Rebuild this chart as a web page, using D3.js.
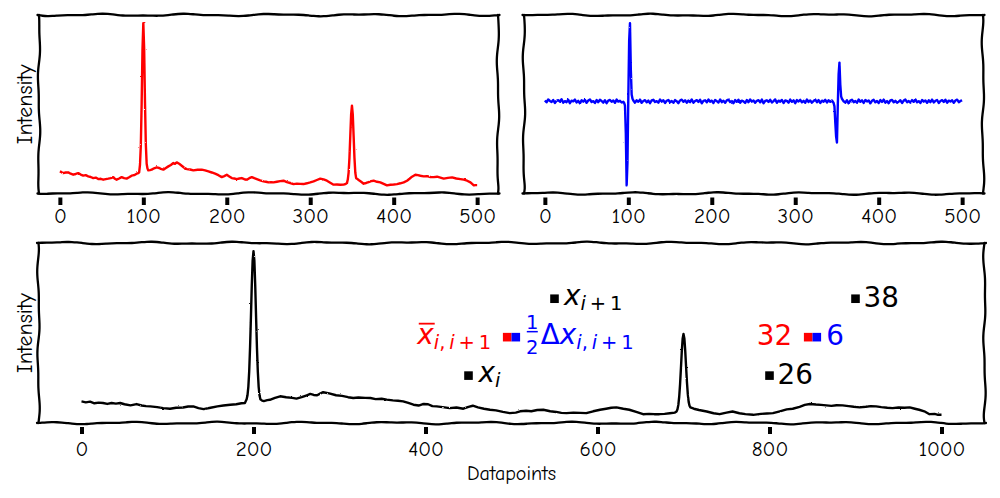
<!DOCTYPE html>
<html><head><meta charset="utf-8">
<script src="https://cdn.jsdelivr.net/npm/d3@7"></script>
<style>html,body{margin:0;padding:0;background:#fff;} svg{display:block;}</style>
</head><body><svg id="c" width="1000" height="498">
<defs>
<filter id="rough" x="-2%" y="-5%" width="104%" height="110%">
<feTurbulence type="fractalNoise" baseFrequency="0.45" numOctaves="1" seed="7" result="n"/>
<feDisplacementMap in="SourceGraphic" in2="n" scale="2.0" xChannelSelector="R" yChannelSelector="G"/>
</filter>
</defs>
</svg>
<script>
// ---------- data ----------
const topTicks = [0, 100, 200, 300, 400, 500];
const bottomTicks = [0, 200, 400, 600, 800, 1000];

// top-left: raw spectrum (red)
const redSeries = [[0,3.33],[2,3.2],[4,3.05],[7,3.15],[10,3.17],[13,2.95],[16,2.78],[19,2.9],[22,3.05],[25,2.8],[28,2.62],[31,2.7],[34,2.5],[37,2.4],[40,2.22],[43,2.3],[46,2.05],[49,2.1],[52,1.95],[55,2.05],[58,2.12],[61,2.2],[64,2.38],[66,2.1],[68,1.95],[71,2.15],[74,2.38],[77,2.2],[80,2.12],[83,2.35],[86,2.62],[89,2.7],[92,2.95],[94,3.05],[95,3.17],[96,4.4],[97,7.6],[98,14.6],[99,23.6],[100,28.05],[101,23.8],[102,14.9],[103,7.9],[104,4.6],[105,3.8],[106,3.5],[108,3.55],[110,3.62],[113,3.85],[116,4.0],[119,3.9],[121,3.75],[124,3.62],[127,3.9],[130,4.17],[133,4.4],[136,4.72],[138,4.6],[140,4.83],[143,4.6],[146,4.28],[149,3.95],[152,3.72],[156,3.65],[160,3.5],[165,3.6],[170,3.62],[174,3.5],[178,3.33],[182,3.15],[186,2.95],[190,2.7],[194,2.38],[197,2.55],[200,2.78],[203,2.5],[206,2.22],[209,2.15],[212,2.05],[215,2.15],[218,2.22],[221,2.05],[224,1.95],[227,2.2],[230,2.38],[233,2.2],[236,2.05],[240,1.85],[244,1.67],[247,1.6],[250,1.5],[253,1.55],[256,1.5],[260,1.6],[264,1.7],[268,1.78],[272,1.55],[276,1.4],[280,1.22],[284,1.3],[288,1.25],[292,1.22],[296,1.35],[300,1.5],[304,1.67],[308,1.9],[312,2.12],[316,2.0],[320,1.78],[324,1.45],[328,1.12],[332,1.15],[336,1.1],[340,1.12],[342,1.2],[344,1.38],[345,1.97],[346,3.14],[347,5.59],[348,9.22],[349,12.78],[350,14.28],[351,12.78],[352,9.22],[353,5.59],[354,3.14],[355,2.2],[356,2.12],[358,1.9],[361,1.6],[364,1.28],[367,1.4],[370,1.55],[373,1.7],[376,1.78],[380,1.6],[384,1.5],[388,1.25],[392,1.0],[396,1.1],[400,1.15],[404,1.22],[408,1.35],[412,1.5],[416,1.78],[419,2.1],[422,2.45],[426,2.78],[429,2.7],[432,2.6],[436,2.5],[440,2.55],[444,2.4],[448,2.38],[452,2.45],[456,2.3],[460,2.12],[465,2.25],[470,2.33],[475,2.15],[480,2.05],[484,1.95],[488,1.78],[492,1.5],[496,1.0],[498,1.05],[500,1.05]];

// top-right: derivative (blue)
const blueSeries = [[0,0.01],[2,-0.012],[4,0.022],[6,0.004],[8,-0.008],[10,0.016],[12,-0.02],[14,0.006],[16,0.014],[18,-0.004],[20,0.024],[22,-0.016],[24,0.002],[26,-0.01],[28,0.018],[30,-0.022],[32,0.008],[34,0.0],[36,0.02],[38,-0.014],[40,0.006],[42,-0.024],[44,0.012],[46,-0.004],[48,0.016],[50,-0.018],[52,0.01],[54,0.022],[56,-0.008],[58,0.002],[60,-0.02],[62,0.014],[64,-0.01],[66,0.018],[68,0.004],[70,-0.016],[72,0.012],[74,-0.022],[76,0.008],[78,0.016],[80,-0.006],[82,0.01],[84,-0.018],[86,0.02],[88,-0.004],[90,0.006],[92,-0.014],[94,-0.006],[95,-0.02],[96,-0.05],[97,-0.38],[98,-1.0],[99,-0.72],[100,0.05],[101,0.72],[102,0.93],[103,0.38],[104,0.08],[105,0.03],[106,0.01],[108,-0.016],[110,0.012],[112,-0.006],[114,0.02],[116,-0.018],[118,0.004],[120,0.014],[122,-0.012],[124,0.008],[126,-0.022],[128,0.01],[130,0.018],[132,-0.008],[134,0.002],[136,-0.016],[138,0.022],[140,-0.004],[142,0.012],[144,-0.02],[146,0.006],[148,0.016],[150,-0.012],[152,0.004],[154,-0.018],[156,0.014],[158,0.0],[160,-0.022],[162,0.01],[164,0.02],[166,-0.006],[168,0.012],[170,-0.016],[172,0.008],[174,-0.01],[176,0.022],[178,-0.018],[180,0.004],[182,0.014],[184,-0.008],[186,0.018],[188,-0.024],[190,0.006],[192,0.012],[194,-0.012],[196,0.02],[198,-0.004],[200,0.008],[202,-0.02],[204,0.016],[206,0.002],[208,-0.014],[210,0.022],[212,-0.01],[214,0.006],[216,-0.018],[218,0.012],[220,0.02],[222,-0.008],[224,0.004],[226,-0.022],[228,0.014],[230,-0.006],[232,0.018],[234,-0.016],[236,0.008],[238,0.0],[240,-0.02],[242,0.016],[244,-0.01],[246,0.022],[248,-0.004],[250,0.01],[252,-0.018],[254,0.006],[256,0.014],[258,-0.012],[260,0.02],[262,-0.022],[264,0.004],[266,0.012],[268,-0.008],[270,0.018],[272,-0.014],[274,0.002],[276,0.022],[278,-0.018],[280,0.008],[282,-0.004],[284,0.016],[286,-0.02],[288,0.01],[290,0.004],[292,-0.016],[294,0.02],[296,-0.006],[298,0.012],[300,-0.022],[302,0.014],[304,-0.002],[306,0.018],[308,-0.012],[310,0.006],[312,-0.018],[314,0.022],[316,-0.008],[318,0.01],[320,-0.016],[322,0.004],[324,0.02],[326,-0.01],[328,0.014],[330,-0.02],[332,0.008],[334,-0.004],[336,0.018],[338,-0.014],[340,0.012],[342,-0.006],[344,0.01],[346,-0.02],[347,-0.06],[348,-0.25],[349,-0.42],[350,-0.49],[351,-0.05],[352,0.32],[353,0.46],[354,0.2],[355,0.06],[356,0.03],[358,0.0],[360,-0.016],[362,0.012],[364,-0.024],[366,0.008],[368,0.018],[370,-0.01],[372,0.004],[374,-0.018],[376,0.022],[378,-0.006],[380,0.012],[382,-0.02],[384,0.016],[386,-0.002],[388,0.01],[390,-0.024],[392,0.006],[394,0.018],[396,-0.012],[398,0.004],[400,-0.02],[402,0.014],[404,-0.008],[406,0.02],[408,-0.016],[410,0.002],[412,-0.022],[414,0.01],[416,0.016],[418,-0.012],[420,0.006],[422,-0.018],[424,-0.004],[426,0.012],[428,-0.02],[430,0.008],[432,0.02],[434,-0.01],[436,0.004],[438,-0.016],[440,0.014],[442,-0.006],[444,0.022],[446,-0.012],[448,0.002],[450,-0.02],[452,0.016],[454,-0.004],[456,0.01],[458,-0.018],[460,0.012],[462,-0.01],[464,0.02],[466,-0.014],[468,0.006],[470,0.016],[472,-0.02],[474,0.004],[476,0.014],[478,-0.008],[480,0.018],[482,-0.016],[484,0.008],[486,-0.002],[488,0.012],[490,-0.018],[492,0.01],[494,0.02],[496,-0.01],[498,0.004],[500,0.012]];

// bottom: spectrum (black)
const blackSeries = [[0,21.98],[5,21.83],[10,21.93],[15,21.68],[20,21.78],[25,21.72],[30,21.58],[35,21.73],[40,21.63],[45,21.72],[50,21.53],[57,21.35],[64,21.56],[70,21.33],[75,21.23],[80,21.19],[88,21.08],[95,20.93],[103,20.83],[110,20.98],[118,21.03],[124,21.18],[130,21.19],[136,20.93],[142,20.77],[150,20.98],[158,21.19],[165,21.33],[173,21.46],[180,21.53],[186,21.68],[190,21.73],[192,22.3],[193,22.93],[194,24.25],[195,26.67],[196,30.4],[197,35.13],[198,40.1],[199,43.94],[200,45.42],[201,43.94],[202,40.1],[203,35.13],[204,30.4],[205,26.67],[206,24.25],[207,22.93],[208,22.3],[210,22.1],[212,22.03],[216,22.18],[219,22.23],[225,22.53],[231,22.77],[238,22.63],[245,22.53],[250,22.41],[256,22.63],[262,22.93],[266,23.14],[270,22.98],[274,22.93],[278,23.23],[281,23.41],[288,23.23],[296,22.93],[303,22.83],[310,22.63],[316,22.5],[322,22.58],[330,22.53],[336,22.5],[342,22.33],[349,22.38],[355,22.25],[362,22.13],[368,22.08],[374,21.98],[380,21.73],[386,21.46],[392,21.33],[397,21.56],[403,21.53],[408,21.23],[413,21.19],[420,21.08],[428,20.92],[436,21.03],[444,20.83],[450,21.13],[455,21.3],[461,21.03],[468,20.83],[475,20.67],[482,20.58],[490,20.33],[498,20.14],[505,20.23],[510,20.43],[517,20.51],[523,20.43],[530,20.63],[537,20.67],[545,20.43],[552,20.33],[558,20.18],[564,20.14],[572,20.23],[580,20.18],[587,20.14],[595,20.43],[603,20.67],[610,20.83],[616,20.98],[622,21.04],[630,20.83],[637,20.67],[645,20.33],[653,19.98],[660,20.03],[666,19.98],[672,19.98],[678,20.03],[684,20.13],[690,20.23],[692,20.41],[693,20.74],[694,21.43],[695,22.7],[696,24.63],[697,27.12],[698,29.73],[699,31.74],[700,32.5],[701,31.8],[702,29.9],[703,27.4],[704,25.0],[705,23.1],[706,21.9],[707,21.3],[708,21.04],[712,20.83],[718,20.63],[727,20.4],[735,20.13],[742,19.98],[750,20.23],[757,20.4],[765,20.13],[772,19.98],[781,19.88],[790,20.03],[797,20.08],[804,20.14],[812,20.43],[820,20.73],[827,20.83],[835,21.13],[841,21.43],[847,21.56],[854,21.48],[860,21.43],[866,21.35],[872,21.28],[878,21.38],[885,21.35],[892,21.23],[898,21.13],[905,21.04],[912,21.13],[918,21.23],[924,21.19],[930,21.08],[937,20.98],[943,20.92],[950,21.03],[957,20.98],[963,21.04],[969,20.83],[974,20.67],[980,20.43],[986,19.98],[992,20.03],[996,19.88],[1000,19.88]];

// annotation points (bottom panel)
const pointX = [450, 550, 800, 900];
const pointY = [26, 38, 26, 38];
const pointLabel = ["x_i", "x_i+1", "26", "38"];
const splitX = [500, 850];
const splitY = [32, 32];
const splitOffset = 5;
const meanLabels = ["xbar", "32"];
const halfDiffLabels = ["halfdelta", "6"];

// ---------- drawing ----------
const svg = d3.select("#c");
const comic = "'Humor Sans','Comic Neue','Comic Sans MS','Liberation Sans',sans-serif";
const mathFont = "'DejaVu Sans',sans-serif";

function wiggle(x1, y1, x2, y2, seed) {
  const L = Math.hypot(x2 - x1, y2 - y1);
  const n = Math.max(2, Math.round(L / 5));
  const ux = (x2 - x1) / L, uy = (y2 - y1) / L, nx = -uy, ny = ux;
  const pts = [];
  for (let i = 0; i <= n; i++) {
    const t = i / n * L;
    const fade = Math.min(1, t / 6, (L - t) / 6);
    const off = fade * (0.9 * Math.sin(t / 14 + seed) + 0.45 * Math.sin(t / 6.3 + seed * 1.7));
    pts.push([x1 + ux * t + nx * off, y1 + uy * t + ny * off]);
  }
  return d3.line().curve(d3.curveBasis)(pts);
}

const panels = [
  {data: redSeries, color: "red", left: 39, right: 498, top: 15, bottom: 193.5, xdom: [-25, 525], ticks: topTicks, ylabel: true, tickY: 197.5, tickLen: 7.5, pad: 2.8, seed: 0.3},
  {data: blueSeries, color: "blue", left: 524, right: 983, top: 15, bottom: 193.5, xdom: [-25, 525], ticks: topTicks, ylabel: false, tickY: 197.5, tickLen: 7.5, pad: 2.8, seed: 1.9},
  {data: blackSeries, color: "black", left: 38.5, right: 984.5, top: 243, bottom: 423, xdom: [-50, 1050], ticks: bottomTicks, ylabel: true, xlabel: true, tickY: 427, tickLen: 7, pad: 6.8, seed: 3.1}
];

panels.forEach(p => {
  const g = svg.append("g");
  const x = d3.scaleLinear().domain(p.xdom).range([p.left, p.right]);
  const ext = d3.extent(p.data, d => d[1]);
  const padY = (ext[1] - ext[0]) * 0.05;
  const y = d3.scaleLinear().domain([ext[0] - padY, ext[1] + padY]).range([p.bottom, p.top]);
  p.x = x; p.y = y;

  const line = d3.line().x(d => x(d[0])).y(d => y(d[1]));
  g.append("path").datum(p.data).attr("d", line).attr("fill", "none")
    .attr("stroke", p.color).attr("stroke-width", 2.4).attr("stroke-linejoin", "round")
    .attr("filter", "url(#rough)");

  const sp = [
    [p.left - 1.5, p.top, p.right + 1.5, p.top],
    [p.left - 1.5, p.bottom, p.right + 1.5, p.bottom],
    [p.left, p.top, p.left, p.bottom],
    [p.right, p.top, p.right, p.bottom]
  ];
  sp.forEach((s, i) => {
    g.append("path").attr("d", wiggle(s[0], s[1], s[2], s[3], p.seed + i * 1.3))
      .attr("fill", "none").attr("stroke", "#000").attr("stroke-width", 2.3).attr("stroke-linecap", "round");
  });

  const ax = g.append("g").attr("transform", `translate(0,${p.tickY})`)
    .call(d3.axisBottom(x).tickValues(p.ticks).tickSize(p.tickLen).tickPadding(p.pad).tickFormat(d3.format("d")));
  ax.select(".domain").remove();
  ax.selectAll(".tick line").attr("stroke", "#000").attr("stroke-width", 4);
  ax.selectAll(".tick text").attr("font-family", comic).attr("font-size", 21).attr("fill", "#000");

  if (p.ylabel) {
    g.append("text").attr("transform", `translate(31.5,${(p.top + p.bottom) / 2}) rotate(-90)`)
      .attr("text-anchor", "middle").attr("font-family", comic).attr("font-size", 22).text("Intensity");
  }
  if (p.xlabel) {
    g.append("text").attr("x", (p.left + p.right) / 2).attr("y", 480)
      .attr("text-anchor", "middle").attr("font-family", comic).attr("font-size", 20).text("Datapoints");
  }
});

// ---------- annotations on bottom panel ----------
const bp = panels[2];
const ag = svg.append("g");
const big = 27.8, sub = 19.5, msz = 8.6;

function square(cx, cy, color) {
  ag.append("rect").attr("x", cx - msz / 2).attr("y", cy - msz / 2)
    .attr("width", msz).attr("height", msz).attr("fill", color);
}

pointX.forEach((px, i) => {
  const cx = bp.x(px), cy = bp.y(pointY[i]);
  square(cx, cy, "#000");
  const lab = pointLabel[i];
  if (lab === "x_i") {
    ag.append("text").attr("x", cx + 10).attr("y", cy + 6.5).attr("font-family", mathFont).attr("font-size", big)
      .html(`<tspan font-style="italic">x</tspan><tspan font-size="${sub}" dy="5" font-style="italic">i</tspan>`);
  } else if (lab === "x_i+1") {
    ag.append("text").attr("x", cx + 9.5).attr("y", cy + 6.5).attr("font-family", mathFont).attr("font-size", big)
      .html(`<tspan font-style="italic">x</tspan><tspan font-size="${sub}" dy="5"><tspan font-style="italic">i</tspan>\u2009+\u20091</tspan>`);
  } else {
    ag.append("text").attr("x", cx + 8).attr("y", cy + 8).attr("font-family", mathFont).attr("font-size", big).text(lab);
  }
});

splitX.forEach((sx, i) => {
  const rx = bp.x(sx - splitOffset), bx = bp.x(sx + splitOffset), cy = bp.y(splitY[i]);
  square(rx, cy, "red");
  square(bx, cy, "blue");
  const base = cy + 6.5;
  if (meanLabels[i] === "xbar") {
    const t = ag.append("text").attr("x", rx - 16).attr("y", base).attr("text-anchor", "end")
      .attr("font-family", mathFont).attr("font-size", big).attr("fill", "red")
      .html(`<tspan font-style="italic">x</tspan><tspan font-size="${sub}" dy="5"><tspan font-style="italic">i</tspan>,\u2009<tspan font-style="italic">i</tspan>\u2009+\u20091</tspan>`);
    const e = t.node().getExtentOfChar(0);
    ag.append("line").attr("x1", e.x + 1.5).attr("x2", e.x + e.width + 1).attr("y1", base - 20).attr("y2", base - 20)
      .attr("stroke", "red").attr("stroke-width", 1.8);
  } else {
    ag.append("text").attr("x", rx - 16).attr("y", cy + 8).attr("text-anchor", "end")
      .attr("font-family", mathFont).attr("font-size", big).attr("fill", "red").text(meanLabels[i]);
  }
  if (halfDiffLabels[i] === "halfdelta") {
    const fx = bx + 16.5;
    ag.append("text").attr("x", fx).attr("y", base - 14.4).attr("text-anchor", "middle")
      .attr("font-family", mathFont).attr("font-size", sub).attr("fill", "blue").text("1");
    ag.append("line").attr("x1", fx - 5.5).attr("x2", fx + 5.5).attr("y1", base - 12).attr("y2", base - 12)
      .attr("stroke", "blue").attr("stroke-width", 1.5);
    ag.append("text").attr("x", fx).attr("y", base + 10).attr("text-anchor", "middle")
      .attr("font-family", mathFont).attr("font-size", sub).attr("fill", "blue").text("2");
    ag.append("text").attr("x", bx + 25).attr("y", base).attr("font-family", mathFont).attr("font-size", big).attr("fill", "blue")
      .html(`<tspan>\u0394</tspan><tspan font-style="italic">x</tspan><tspan font-size="${sub}" dy="5"><tspan font-style="italic">i</tspan>,\u2009<tspan font-style="italic">i</tspan>\u2009+\u20091</tspan>`);
  } else {
    ag.append("text").attr("x", bx + 9.5).attr("y", cy + 8)
      .attr("font-family", mathFont).attr("font-size", big).attr("fill", "blue").text(halfDiffLabels[i]);
  }
});
</script>
</body></html>
